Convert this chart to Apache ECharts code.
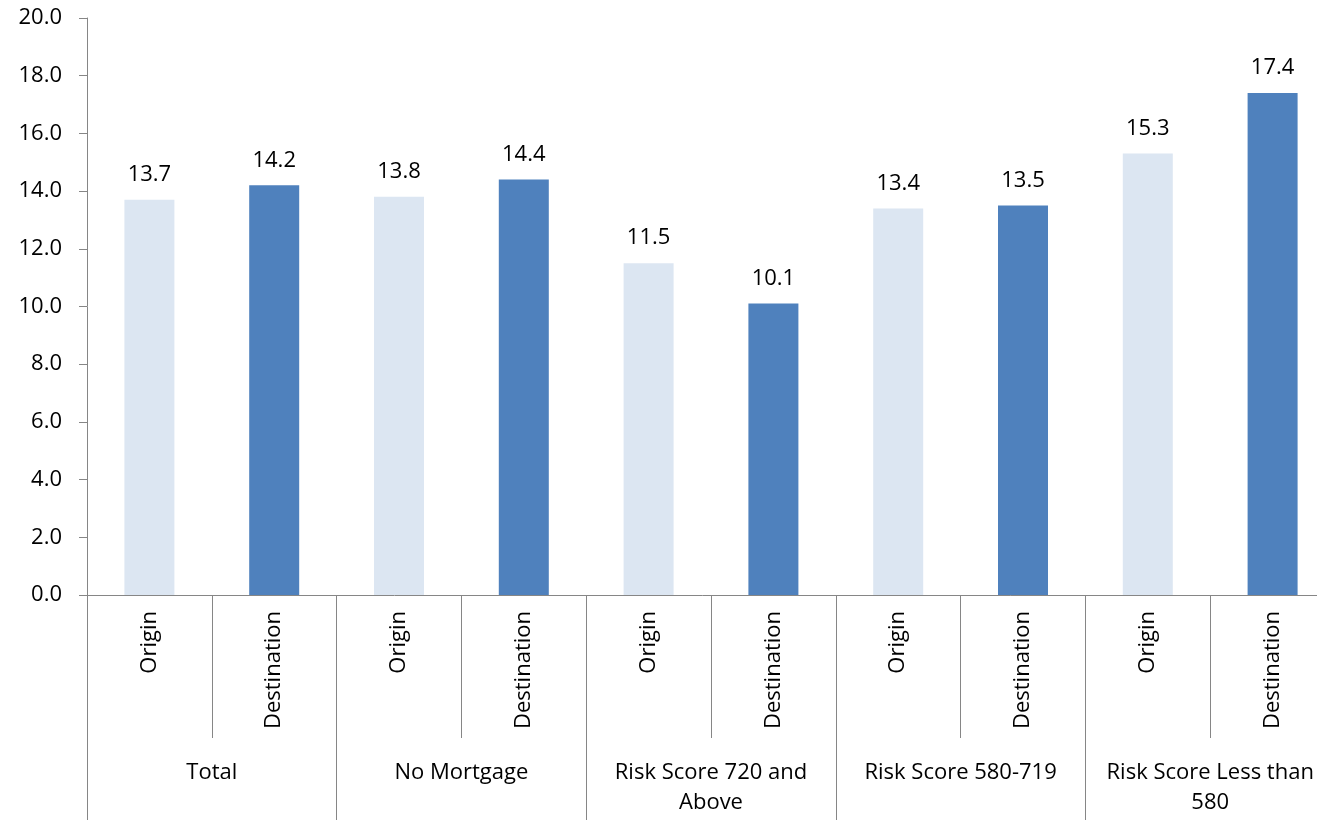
<!DOCTYPE html>
<html>
<head>
<meta charset="utf-8">
<script src="https://cdn.jsdelivr.net/npm/echarts@6/dist/echarts.min.js"></script>
<style>
  html, body { margin: 0; padding: 0; background: #fff; }
  #chart { width: 1317px; height: 820px; }
</style>
</head>
<body>
<div id="chart"></div>
<script>
// Groups and the two bars shown in each
const groups = ['Total', 'No Mortgage', 'Risk Score 720 and\nAbove', 'Risk Score 580-719', 'Risk Score Less than\n580'];
const barTypes = ['Origin', 'Destination'];
const originValues = [13.7, 13.8, 11.5, 13.4, 15.3];
const destinationValues = [14.2, 14.4, 10.1, 13.5, 17.4];
const yTicks = { min: 0, max: 20, interval: 2 };

const colors = { Origin: '#DCE6F2', Destination: '#4F81BD' };
const axisGray = '#868686';
const font = '"Open Sans", "Noto Sans", sans-serif';

// One category per bar, interleaved Origin / Destination
const barCategories = [];
const barData = [];
groups.forEach((g, i) => {
  barCategories.push(barTypes[0], barTypes[1]);
  barData.push({ value: originValues[i], itemStyle: { color: colors.Origin } });
  barData.push({ value: destinationValues[i], itemStyle: { color: colors.Destination } });
});

const chart = echarts.init(document.getElementById('chart'), null, { renderer: 'canvas' });
chart.setOption({
  animation: false,
  backgroundColor: '#fff',
  textStyle: { fontFamily: font },
  // the plot runs a little past the right edge of the canvas
  grid: { left: 87, top: 18, right: -18, bottom: 225, containLabel: false, outerBoundsMode: 'none' },
  xAxis: [
    {
      type: 'category',
      data: barCategories,
      position: 'bottom',
      axisLine: { show: true, lineStyle: { color: axisGray, width: 1 } },
      axisTick: { show: true, interval: 0, length: 143, lineStyle: { color: axisGray } },
      axisLabel: {
        interval: 0, rotate: 90, margin: 16,
        fontSize: 22, color: '#000', fontFamily: font
      }
    },
    {
      type: 'category',
      data: groups,
      position: 'bottom',
      axisLine: { show: false },
      axisTick: { show: true, interval: 0, length: 225, lineStyle: { color: axisGray } },
      axisLabel: {
        interval: 0, margin: 163, fontSize: 22, lineHeight: 30,
        color: '#000', fontFamily: font, verticalAlign: 'top'
      }
    }
  ],
  yAxis: {
    type: 'value',
    min: yTicks.min, max: yTicks.max, interval: yTicks.interval,
    axisLine: { show: true, lineStyle: { color: axisGray, width: 1 } },
    axisTick: { show: true, length: 8, lineStyle: { color: axisGray } },
    splitLine: { show: false },
    axisLabel: {
      margin: 25, fontSize: 22, color: '#000', fontFamily: font,
      formatter: v => v.toFixed(1)
    }
  },
  series: [{
    type: 'bar',
    xAxisIndex: 0,
    data: barData,
    barWidth: 50,
    label: {
      show: true, position: 'top', distance: 14,
      fontSize: 22, color: '#000', fontFamily: font,
      formatter: p => p.value.toFixed(1)
    }
  }]
});
</script>
</body>
</html>
